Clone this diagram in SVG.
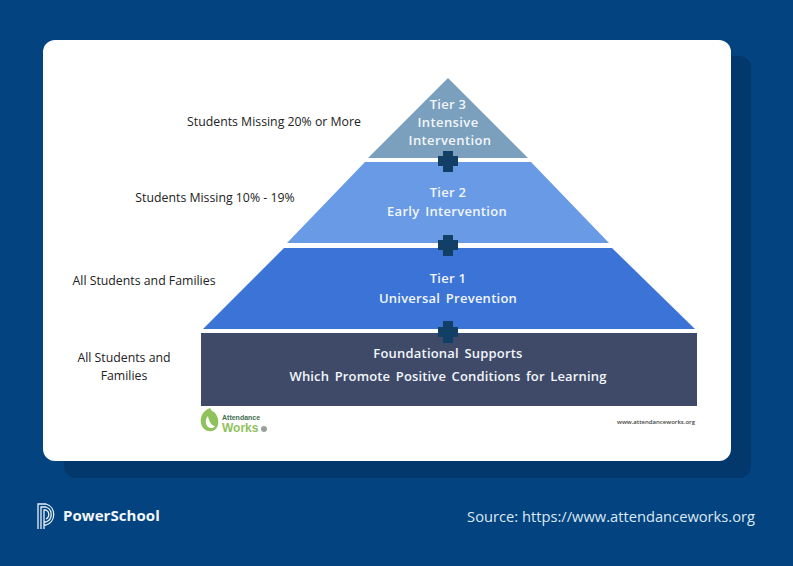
<svg xmlns="http://www.w3.org/2000/svg" width="793" height="566" viewBox="0 0 793 566">
<defs><style>
text{font-family:"Open Sans","Noto Sans","Liberation Sans",sans-serif}
.w{fill:#f2f6fb;font-weight:600;font-size:13px;text-anchor:middle}
.k{fill:#222;font-size:12.3px;text-anchor:middle}
.plus{fill:#123f66}
</style></defs>
<rect width="793" height="566" fill="#03437f"/>
<rect x="64" y="56" width="687" height="422" rx="12" fill="#03386c"/>
<rect x="43" y="40" width="688" height="421" rx="12" fill="#fff"/>
<g id="tier3"><polygon points="448,78 528,158 368,158" fill="#7ba0bd"/>
<text class="w" x="448" y="109" style="letter-spacing:.3px">Tier 3</text><text class="w" x="448" y="127" style="letter-spacing:.4px">Intensive</text><text class="w" x="450" y="145" style="letter-spacing:.4px">Intervention</text></g>
<g id="tier2"><polygon points="365,162 531,162 609,243 287,243" fill="#699ae6"/>
<text class="w" x="448" y="197" style="letter-spacing:.3px">Tier 2</text><text class="w" x="447" y="216" style="letter-spacing:.3px;word-spacing:2px">Early Intervention</text></g>
<g id="tier1"><polygon points="284,248 612,248 695,329 203,329" fill="#3b74d6"/>
<text class="w" x="448" y="283" style="letter-spacing:.3px">Tier 1</text><text class="w" x="448" y="303" style="letter-spacing:.25px;word-spacing:2px">Universal Prevention</text></g>
<g id="foundation"><rect x="201" y="333" width="496" height="73" fill="#3f4a68"/>
<text class="w" x="448" y="358" style="letter-spacing:.2px;word-spacing:2px">Foundational Supports</text><text class="w" x="448" y="381" style="letter-spacing:.15px;word-spacing:2px">Which Promote Positive Conditions for Learning</text></g>
<g id="connectors">
<path class="plus" d="M443 151h10v5h5v10h-5v6h-10v-6h-5v-10h5z"/>
<path class="plus" d="M443 235h10v5h5v10h-5v6h-10v-6h-5v-10h5z"/>
<path class="plus" d="M443 321h10v6h5v10h-5v6h-10v-6h-5v-10h5z"/>
</g>
<g id="labels">
<text class="k" x="274" y="126">Students Missing 20% or More</text>
<text class="k" x="215" y="202">Students Missing 10% - 19%</text>
<text class="k" x="144" y="285">All Students and Families</text>
<text class="k" x="124" y="362">All Students and</text>
<text class="k" x="124" y="380">Families</text>
</g>
<g id="attendance-works-logo">
<path d="M208 409c-6 3-8 9-7 14 1 6 6 9 11 8 5-1 7-6 6-12-1-4-3-7-6-8l-2-3z" fill="#8fc25c"/>
<path d="M208 416c-3 3-3 8 0 11 3 2 6 1 7-1-3 0-6-4-7-10z" fill="#fff"/>
<text x="222" y="420" font-size="7" font-weight="700" fill="#3f6d52" style="font-family:'Liberation Sans',sans-serif">Attendance</text>
<text x="222" y="432" font-size="12" font-weight="700" fill="#8fc25c" style="font-family:'Liberation Sans',sans-serif">Works</text>
<circle cx="264" cy="429" r="3" fill="#9aa39a"/>
</g>
<text x="656" y="424" font-size="6" fill="#444" text-anchor="middle" font-weight="600">www.attendanceworks.org</text>
<g id="powerschool">
<g fill="none" stroke="#e8f1fa" stroke-width="1.3"><path d="M38 529V504h8a11 11 0 0 1 0 21h-2"/><path d="M41 529V507h5a8 8 0 0 1 0 15h-2"/><path d="M44 529V510h2a5 5 0 0 1 0 9"/></g>
<text x="63" y="521" font-size="15" font-weight="700" fill="#f2f7fc" style="letter-spacing:.05px">PowerSchool</text>
</g>
<text x="755" y="522" font-size="14.7" fill="#dbe8f5" text-anchor="end">Source: https://www.attendanceworks.org</text>
</svg>
